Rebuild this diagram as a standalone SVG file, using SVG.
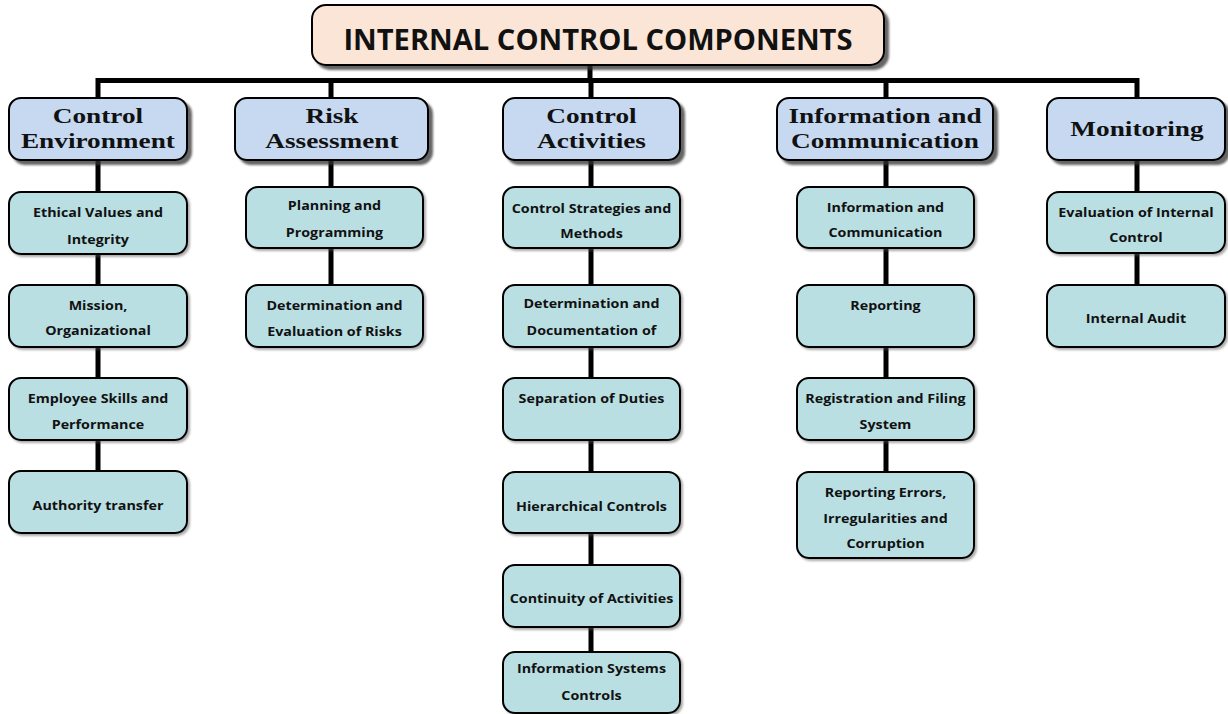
<svg xmlns="http://www.w3.org/2000/svg" width="1228" height="714" viewBox="0 0 1228 714">
<defs>
<filter id="sh" x="-10%" y="-10%" width="130%" height="140%">
<feDropShadow dx="4" dy="4" stdDeviation="1.2" flood-color="#333" flood-opacity="0.75"/>
</filter>
<filter id="sh2" x="-10%" y="-10%" width="130%" height="140%">
<feDropShadow dx="2" dy="2" stdDeviation="1" flood-color="#555" flood-opacity="0.5"/>
</filter>
</defs>
<style>
.title{fill:#FBE5D6;stroke:#000;stroke-width:2;filter:url(#sh)}
.head{fill:#C6D9F1;stroke:#000;stroke-width:2;filter:url(#sh)}
.child{fill:#B9DFE3;stroke:#000;stroke-width:2;filter:url(#sh2)}
.tt{font-family:"Open Sans","Liberation Sans",sans-serif;font-weight:bold;font-size:28px;fill:#111;text-anchor:middle;transform-box:fill-box;transform-origin:center;transform:scaleX(1.04)}
.ht{font-family:"Liberation Serif","Times New Roman",serif;font-weight:bold;font-size:22px;fill:#111;text-anchor:middle;transform-box:fill-box;transform-origin:center;transform:scaleX(1.24)}
.ct{font-family:"Open Sans","Liberation Sans",sans-serif;font-weight:bold;font-size:13px;fill:#111;text-anchor:middle;transform-box:fill-box;transform-origin:center;transform:scaleX(1.1)}
.ln{fill:none;stroke:#000;stroke-width:5;stroke-linejoin:miter}
</style>
<rect width="1228" height="714" fill="#fff"/>
<g id="connectors">
<path class="ln" d="M98,471 V80.5 H1137 V285"/>
<path class="ln" d="M590,65 V80"/>
<path class="ln" d="M331,80 V285"/>
<path class="ln" d="M591,80 V652"/>
<path class="ln" d="M886,80 V472"/>
</g>
<g id="root">
<rect class="title" x="312" y="5" width="572" height="60" rx="14"/>
<text class="tt" x="598" y="50">INTERNAL CONTROL COMPONENTS</text>
</g>
<g id="h-control-environment">
<rect class="head" x="9" y="98" width="178" height="62" rx="12"/>
<text class="ht" x="98" y="123.5">Control</text>
<text class="ht" x="98" y="148">Environment</text>
</g>
<g id="h-risk-assessment">
<rect class="head" x="235" y="98" width="193" height="62" rx="12"/>
<text class="ht" x="332" y="123.5">Risk</text>
<text class="ht" x="332" y="148">Assessment</text>
</g>
<g id="h-control-activities">
<rect class="head" x="503" y="98" width="177" height="62" rx="12"/>
<text class="ht" x="591.5" y="123.5">Control</text>
<text class="ht" x="591.5" y="148">Activities</text>
</g>
<g id="h-information-communication">
<rect class="head" x="777" y="98" width="216" height="62" rx="12"/>
<text class="ht" x="885" y="123.5">Information and</text>
<text class="ht" x="885" y="148">Communication</text>
</g>
<g id="h-monitoring">
<rect class="head" x="1047" y="98" width="178" height="62" rx="12"/>
<text class="ht" x="1137" y="136">Monitoring</text>
</g>
<g id="ce1"><rect class="child" x="9" y="192" width="178" height="62" rx="12"/>
<text class="ct" x="98" y="217">Ethical Values and</text><text class="ct" x="98" y="244">Integrity</text></g>
<g id="ce2"><rect class="child" x="9" y="285" width="178" height="62" rx="12"/>
<text class="ct" x="98" y="310">Mission,</text><text class="ct" x="98" y="335">Organizational</text></g>
<g id="ce3"><rect class="child" x="9" y="378" width="178" height="62" rx="12"/>
<text class="ct" x="98" y="403">Employee Skills and</text><text class="ct" x="98" y="429">Performance</text></g>
<g id="ce4"><rect class="child" x="9" y="471" width="178" height="62" rx="12"/>
<text class="ct" x="98" y="510">Authority transfer</text></g>
<g id="ra1"><rect class="child" x="246" y="187" width="177" height="61" rx="12"/>
<text class="ct" x="334.5" y="210">Planning and</text><text class="ct" x="334.5" y="237">Programming</text></g>
<g id="ra2"><rect class="child" x="246" y="285" width="177" height="62" rx="12"/>
<text class="ct" x="334.5" y="310">Determination and</text><text class="ct" x="334.5" y="336">Evaluation of Risks</text></g>
<g id="ca1"><rect class="child" x="503" y="187" width="177" height="61" rx="12"/>
<text class="ct" x="591.5" y="213">Control Strategies and</text><text class="ct" x="591.5" y="238">Methods</text></g>
<g id="ca2"><rect class="child" x="503" y="285" width="177" height="62" rx="12"/>
<text class="ct" x="591.5" y="308">Determination and</text><text class="ct" x="591.5" y="335">Documentation of</text></g>
<g id="ca3"><rect class="child" x="503" y="378" width="177" height="62" rx="12"/>
<text class="ct" x="591.5" y="403">Separation of Duties</text></g>
<g id="ca4"><rect class="child" x="503" y="472" width="177" height="61" rx="12"/>
<text class="ct" x="591.5" y="511">Hierarchical Controls</text></g>
<g id="ca5"><rect class="child" x="503" y="565" width="177" height="62" rx="12"/>
<text class="ct" x="591.5" y="603">Continuity of Activities</text></g>
<g id="ca6"><rect class="child" x="503" y="652" width="177" height="61" rx="12"/>
<text class="ct" x="591.5" y="673">Information Systems</text><text class="ct" x="591.5" y="700">Controls</text></g>
<g id="ic1"><rect class="child" x="797" y="187" width="177" height="61" rx="12"/>
<text class="ct" x="885.5" y="212">Information and</text><text class="ct" x="885.5" y="237">Communication</text></g>
<g id="ic2"><rect class="child" x="797" y="285" width="177" height="62" rx="12"/>
<text class="ct" x="885.5" y="310">Reporting</text></g>
<g id="ic3"><rect class="child" x="797" y="378" width="177" height="62" rx="12"/>
<text class="ct" x="885.5" y="403">Registration and Filing</text><text class="ct" x="885.5" y="429">System</text></g>
<g id="ic4"><rect class="child" x="797" y="472" width="177" height="86" rx="12"/>
<text class="ct" x="885.5" y="497">Reporting Errors,</text><text class="ct" x="885.5" y="523">Irregularities and</text><text class="ct" x="885.5" y="548">Corruption</text></g>
<g id="m1"><rect class="child" x="1047" y="192" width="178" height="61" rx="12"/>
<text class="ct" x="1136" y="217">Evaluation of Internal</text><text class="ct" x="1136" y="242">Control</text></g>
<g id="m2"><rect class="child" x="1047" y="285" width="178" height="62" rx="12"/>
<text class="ct" x="1136" y="323">Internal Audit</text></g>
</svg>
